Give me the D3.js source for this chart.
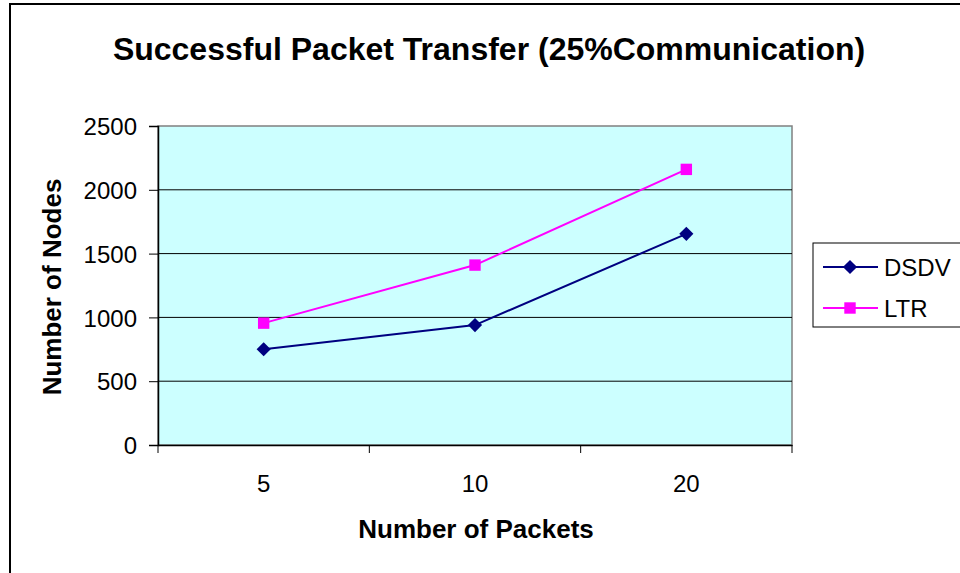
<!DOCTYPE html>
<html>
<head>
<meta charset="utf-8">
<script src="https://cdn.jsdelivr.net/npm/d3@7"></script>
<style>
  body { margin: 0; background: #fff; }
  svg text { font-family: "Liberation Sans", Arial, sans-serif; fill: #000; }
</style>
</head>
<body>
<script>
// data
let categories = ['5', '10', '20']
let dsdv = [750, 940, 1655]
let ltr = [955, 1410, 2160]
let yTicks = [0, 500, 1000, 1500, 2000, 2500]
let seriesNames = ['DSDV', 'LTR']

let width = 960
let height = 573
let plot = { left: 158, right: 792, top: 126, bottom: 445 }

let svg = d3.select('body').append('svg')
    .attr('width', width)
    .attr('height', height)

// outer frame
svg.append('rect')
    .attr('x', 10).attr('y', 4)
    .attr('width', 1000).attr('height', 700)
    .attr('fill', '#fff')
    .attr('stroke', '#000')
    .attr('stroke-width', 2)

let xScale = d3.scaleBand()
    .domain(categories)
    .range([plot.left, plot.right])
    .padding(0)

let yScale = d3.scaleLinear()
    .domain([0, 2500])
    .range([plot.bottom, plot.top])

// plot background
svg.append('rect')
    .attr('x', plot.left).attr('y', plot.top)
    .attr('width', plot.right - plot.left)
    .attr('height', plot.bottom - plot.top)
    .attr('fill', '#ccffff')
    .attr('stroke', '#808080')
    .attr('stroke-width', 1.5)

// gridlines
svg.append('g')
    .selectAll('line')
    .data(yTicks.filter(d => d > 0 && d < 2500))
    .enter()
    .append('line')
    .attr('x1', plot.left).attr('x2', plot.right)
    .attr('y1', d => yScale(d)).attr('y2', d => yScale(d))
    .attr('stroke', '#000')
    .attr('stroke-width', 1)

// y axis
let yAxis = d3.axisLeft(yScale).tickValues(yTicks).tickFormat(d3.format('d')).tickSize(9).tickPadding(12)
let yg = svg.append('g')
    .attr('transform', 'translate(' + plot.left + ', 0)')
    .call(yAxis)
yg.select('.domain').attr('stroke', '#000').attr('stroke-width', 1.5)
yg.selectAll('.tick line').attr('stroke', '#000')
yg.selectAll('.tick text')
    .attr('font-size', 24)
    .attr('font-family', '"Liberation Sans", Arial, sans-serif')
    .attr('fill', '#000')
    .attr('dy', '0.36em')

// x axis
let xAxis = d3.axisBottom(xScale).tickSize(0).tickPadding(30)
let xg = svg.append('g')
    .attr('transform', 'translate(0, ' + plot.bottom + ')')
    .call(xAxis)
xg.select('.domain').attr('stroke', '#000').attr('stroke-width', 1.5)
xg.selectAll('.tick text')
    .attr('font-size', 24)
    .attr('font-family', '"Liberation Sans", Arial, sans-serif')
    .attr('fill', '#000')

// category boundary ticks
let bounds = categories.map(c => xScale(c)).concat([xScale(categories[categories.length - 1]) + xScale.bandwidth()])
xg.selectAll('.bound')
    .data(bounds)
    .enter()
    .append('line')
    .attr('class', 'bound')
    .attr('x1', d => d).attr('x2', d => d)
    .attr('y1', 0).attr('y2', 8)
    .attr('stroke', '#000')

let cx = d => xScale(d) + xScale.bandwidth() / 2

let line = d3.line()
    .x((d, i) => cx(categories[i]))
    .y(d => yScale(d))

let series = [
    { name: seriesNames[0], values: dsdv, color: '#000080', shape: d3.symbolSquare, size: 100, rot: 45 },
    { name: seriesNames[1], values: ltr, color: '#ff00ff', shape: d3.symbolSquare, size: 130, rot: 0 }
]

series.forEach(s => {
    svg.append('path')
        .datum(s.values)
        .attr('d', line)
        .attr('fill', 'none')
        .attr('stroke', s.color)
        .attr('stroke-width', 2)

    svg.append('g')
        .selectAll('path')
        .data(s.values)
        .enter()
        .append('path')
        .attr('d', d3.symbol().type(s.shape).size(s.size))
        .attr('transform', (d, i) => 'translate(' + cx(categories[i]) + ',' + yScale(d) + ') rotate(' + s.rot + ')')
        .attr('fill', s.color)
})

// title
svg.append('text')
    .attr('x', 489).attr('y', 60)
    .attr('text-anchor', 'middle')
    .attr('font-size', 32)
    .attr('font-weight', 'bold')
    .text('Successful Packet Transfer (25%Communication)')

// axis titles
svg.append('text')
    .attr('x', 476).attr('y', 538)
    .attr('text-anchor', 'middle')
    .attr('font-size', 26)
    .attr('font-weight', 'bold')
    .text('Number of Packets')

svg.append('text')
    .attr('transform', 'translate(61, 287) rotate(-90)')
    .attr('text-anchor', 'middle')
    .attr('font-size', 26)
    .attr('font-weight', 'bold')
    .text('Number of Nodes')

// legend
let legend = svg.append('g')
legend.append('rect')
    .attr('x', 813).attr('y', 243)
    .attr('width', 200).attr('height', 84)
    .attr('fill', '#fff')
    .attr('stroke', '#000')
    .attr('stroke-width', 1)

series.forEach((s, i) => {
    let ly = 267 + i * 41
    legend.append('line')
        .attr('x1', 823).attr('x2', 878)
        .attr('y1', ly).attr('y2', ly)
        .attr('stroke', s.color)
        .attr('stroke-width', 2)
    legend.append('path')
        .attr('d', d3.symbol().type(s.shape).size(s.size))
        .attr('transform', 'translate(850,' + ly + ') rotate(' + s.rot + ')')
        .attr('fill', s.color)
    legend.append('text')
        .attr('x', 884).attr('y', ly + 9)
        .attr('font-size', 24)
        .text(s.name)
})
</script>
</body>
</html>
